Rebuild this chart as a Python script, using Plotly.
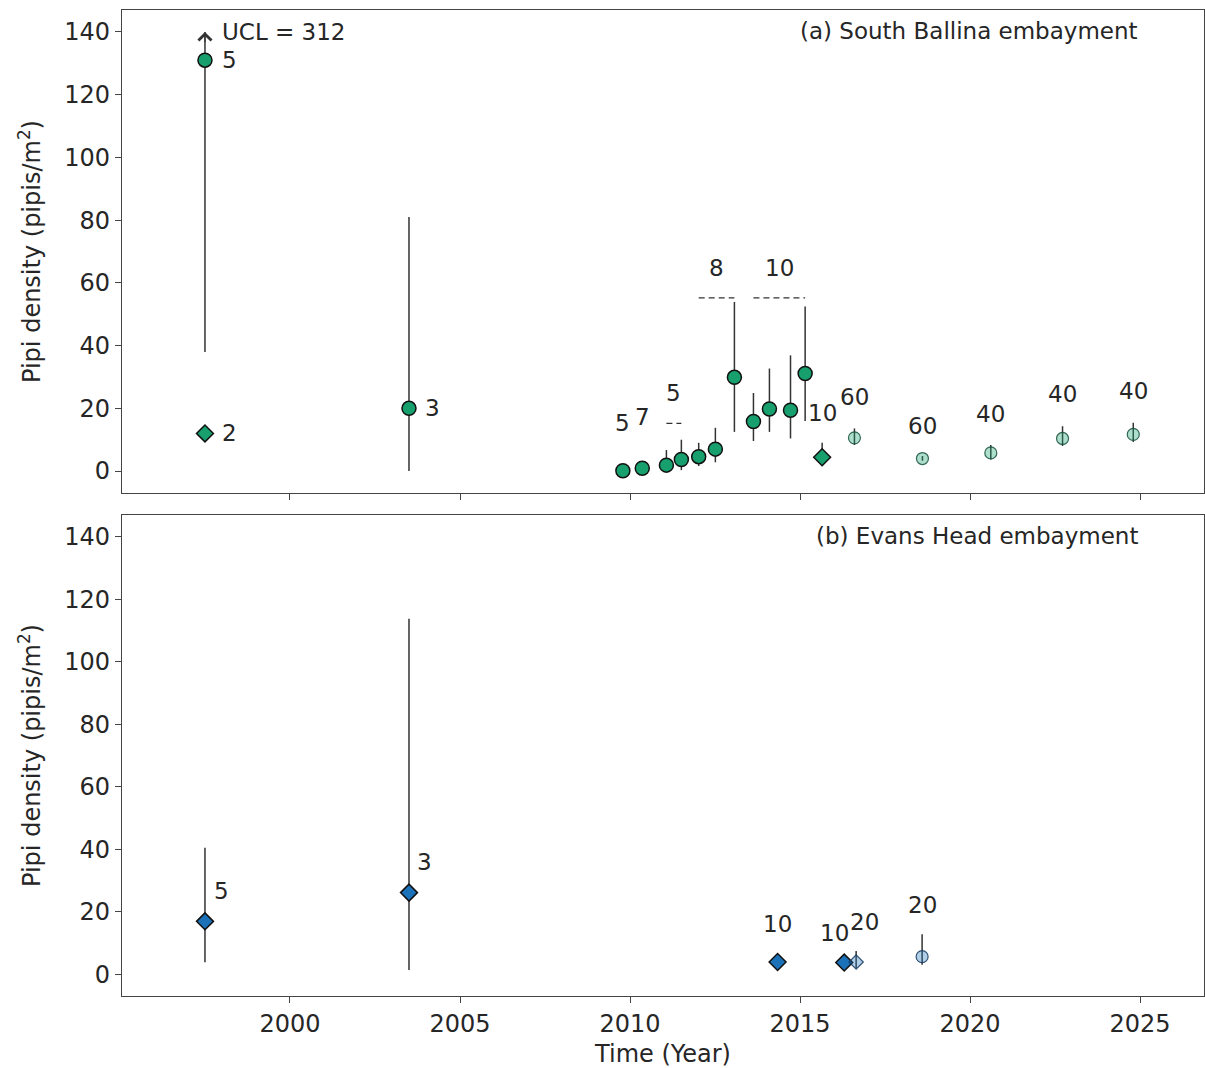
import plotly.graph_objects as go

# ---------------- data: panel (a) South Ballina embayment ----------------
sb_year = [1997.50, 1997.50, 2003.50, 2009.79, 2010.36, 2011.07, 2011.51, 2012.02, 2012.51,
           2013.07, 2013.63, 2014.10, 2014.72, 2015.15, 2015.65, 2016.60, 2018.60, 2020.61,
           2022.72, 2024.80]
sb_mean = [131.0, 12.0, 20.0, 0.1, 0.9, 1.9, 3.7, 4.6, 7.0, 29.9, 15.8, 19.8, 19.4, 31.1,
           4.4, 10.6, 4.0, 5.8, 10.4, 11.7]
sb_lcl = [38.0, 12.0, 0.0, 0.1, 0.9, 0.5, 0.3, 1.6, 2.8, 12.5, 9.6, 12.5, 10.4, 16.0,
          2.0, 8.3, 3.3, 3.7, 8.0, 9.3]
sb_ucl = [312.0, 12.0, 81.0, 0.1, 0.9, 6.7, 10.0, 9.0, 13.8, 53.9, 24.9, 32.7, 36.9, 52.5,
          9.0, 13.6, 4.8, 8.3, 14.3, 15.4]
sb_method = ["S1", "S2", "S1", "S1", "S1", "S1", "S1", "S1", "S1", "S1", "S1", "S1", "S1",
             "S1", "S2", "S3", "S3", "S3", "S3", "S3"]
sb_n = [5, 2, 3, 5, 7, None, None, None, None, None, None, None, None, None, 10, 60, 60,
        40, 40, 40]
# pooled sample sizes (indices of pooled surveys)
sb_groups = [[5, 6], [7, 8, 9], [10, 11, 12, 13]]
sb_group_n = [5, 8, 10]

# ---------------- data: panel (b) Evans Head embayment ----------------
eh_year = [1997.50, 2003.50, 2014.34, 2016.30, 2016.65, 2018.59]
eh_mean = [16.9, 26.1, 3.9, 3.7, 3.9, 5.6]
eh_lcl = [3.8, 1.3, 3.9, 3.7, 2.0, 3.0]
eh_ucl = [40.5, 113.8, 3.9, 3.7, 7.4, 12.8]
eh_method = ["S2", "S2", "S2", "S2", "S4", "S3"]
eh_n = [5, 3, 10, 10, 20, 20]

x_ticks = [2000, 2005, 2010, 2015, 2020, 2025]
y_ticks = [0, 20, 40, 60, 80, 100, 120, 140]

# ---------------- styling ----------------
FONT = "DejaVu Sans"
TXT = "#262626"
FS = 24
FS_LAB = 23
Y_CAP = y_ticks[-1]

site_style = {
    "a": {"solid": "#17a06e", "light": "rgba(23,160,110,0.35)", "edge": "rgba(20,80,60,0.85)"},
    "b": {"solid": "#1c72b8", "light": "rgba(28,114,184,0.35)", "edge": "rgba(20,55,95,0.85)"},
}
method_style = {
    "S1": dict(symbol="circle", size=14, shade="solid"),
    "S2": dict(symbol="diamond", size=13, shade="solid"),
    "S3": dict(symbol="circle", size=12, shade="light"),
    "S4": dict(symbol="diamond", size=11, shade="light"),
}
# label pixel offsets (dx right, dy up) relative to each point
sb_label_off = [(25, 0), (25, 0), (24, 0), (0, 48), (0, 51), None, None, None, None, None,
                None, None, None, None, (0, 44), (0, 41), (0, 33), (0, 39), (0, 44), (0, 43)]
eh_label_off = [(17, 30), (16, 31), (0, 38), (-10, 30), (8, 40), (0, 52)]
sb_group_level = [15.2, 55.2, 55.2]

panels = [
    dict(key="a", xa="x", ya="y", year=sb_year, mean=sb_mean, lcl=sb_lcl, ucl=sb_ucl,
         method=sb_method, n=sb_n, off=sb_label_off, title="(a) South Ballina embayment"),
    dict(key="b", xa="x2", ya="y2", year=eh_year, mean=eh_mean, lcl=eh_lcl, ucl=eh_ucl,
         method=eh_method, n=eh_n, off=eh_label_off, title="(b) Evans Head embayment"),
]

fig = go.Figure()
annotations = []

for p in panels:
    cols = site_style[p["key"]]
    for m in ["S1", "S2", "S3", "S4"]:
        idx = [i for i, mm in enumerate(p["method"]) if mm == m]
        if not idx:
            continue
        st = method_style[m]
        xs = [p["year"][i] for i in idx]
        ys = [p["mean"][i] for i in idx]
        up = [min(p["ucl"][i], Y_CAP) - p["mean"][i] for i in idx]
        dn = [p["mean"][i] - p["lcl"][i] for i in idx]
        if st["shade"] == "solid":
            mk = dict(symbol=st["symbol"], size=st["size"], color=cols["solid"],
                      line=dict(color="#111111", width=1.5))
        else:
            mk = dict(symbol=st["symbol"], size=st["size"], color=cols["light"],
                      line=dict(color=cols["edge"], width=1.2))
        fig.add_trace(go.Scatter(
            x=xs, y=ys, mode="markers", marker=mk, xaxis=p["xa"], yaxis=p["ya"],
            showlegend=False,
            error_y=dict(type="data", symmetric=False, array=up, arrayminus=dn,
                         color="#333333", thickness=1.5, width=0),
        ))
    # sample size labels
    for i, n in enumerate(p["n"]):
        if n is None:
            continue
        dx, dy = p["off"][i]
        annotations.append(dict(x=p["year"][i], y=p["mean"][i], xref=p["xa"], yref=p["ya"],
                                text=str(n), showarrow=False, xshift=dx, yshift=dy,
                                xanchor="center", yanchor="middle",
                                font=dict(family=FONT, size=FS_LAB, color=TXT)))
    # arrows for upper limits beyond the axis
    for i, u in enumerate(p["ucl"]):
        if u > Y_CAP:
            annotations.append(dict(x=p["year"][i], y=Y_CAP, ax=p["year"][i], ay=p["mean"][i],
                                    xref=p["xa"], yref=p["ya"], axref=p["xa"], ayref=p["ya"],
                                    showarrow=True, arrowhead=4, arrowsize=2.1, arrowwidth=1.2,
                                    arrowcolor="#333333", startstandoff=8, text=" "))
            annotations.append(dict(x=p["year"][i], y=Y_CAP, xref=p["xa"], yref=p["ya"],
                                    text=f"UCL = {u:g}", showarrow=False, xshift=15,
                                    xanchor="left", yanchor="middle",
                                    font=dict(family=FONT, size=FS_LAB, color=TXT)))
    # panel title
    annotations.append(dict(x=1, y=1, xref=f"{p['xa']} domain",
                            yref=f"{p['ya']} domain", text=p["title"], showarrow=False,
                            xanchor="right", yanchor="middle", xshift=-64, yshift=-21,
                            font=dict(family=FONT, size=FS_LAB, color=TXT)))

# pooled groups: dashed bracket + label (panel a)
for g, n, lvl in zip(sb_groups, sb_group_n, sb_group_level):
    gx = [sb_year[i] for i in g]
    fig.add_trace(go.Scatter(x=[min(gx), max(gx)], y=[lvl, lvl], mode="lines",
                             line=dict(color="#333333", width=1.3, dash="6px,4px"),
                             xaxis="x", yaxis="y", showlegend=False))
    annotations.append(dict(x=(min(gx) + max(gx)) / 2, y=lvl, xref="x", yref="y",
                            text=str(n), showarrow=False, yshift=30, xanchor="center",
                            yanchor="middle", font=dict(family=FONT, size=FS_LAB, color=TXT)))

axis_common = dict(showline=True, mirror=True, linecolor="#444444", linewidth=1.2,
                   ticks="outside", ticklen=6, tickwidth=1.2, tickcolor="#444444",
                   showgrid=False, zeroline=False,
                   tickfont=dict(family=FONT, size=FS, color=TXT))
x_range = [1995.06, 2026.88]
y_range = [-7, 147]
ytitle = dict(text="Pipi density (pipis/m<sup>2</sup>)",
              font=dict(family=FONT, size=FS, color=TXT), standoff=16)

fig.update_layout(
    width=1205, height=1068,
    margin=dict(l=122, r=1, t=10, b=72),
    plot_bgcolor="white", paper_bgcolor="white",
    showlegend=False,
    xaxis=dict(domain=[0, 1], anchor="y", range=x_range, tickvals=x_ticks,
               showticklabels=False, **axis_common),
    xaxis2=dict(domain=[0, 1], anchor="y2", range=x_range, tickvals=x_ticks,
                title=dict(text="Time (Year)", font=dict(family=FONT, size=FS, color=TXT),
                           standoff=8),
                **axis_common),
    yaxis=dict(domain=[0.5101, 1], anchor="x", range=y_range, tickvals=y_ticks,
               title=ytitle, **axis_common),
    yaxis2=dict(domain=[0, 0.4878], anchor="x2", range=y_range, tickvals=y_ticks,
                title=ytitle, **axis_common),
    annotations=annotations,
)

fig.write_html("out.html", config={"displayModeBar": False},
               post_script="document.body.style.margin='0px';document.body.style.overflow='hidden';")
